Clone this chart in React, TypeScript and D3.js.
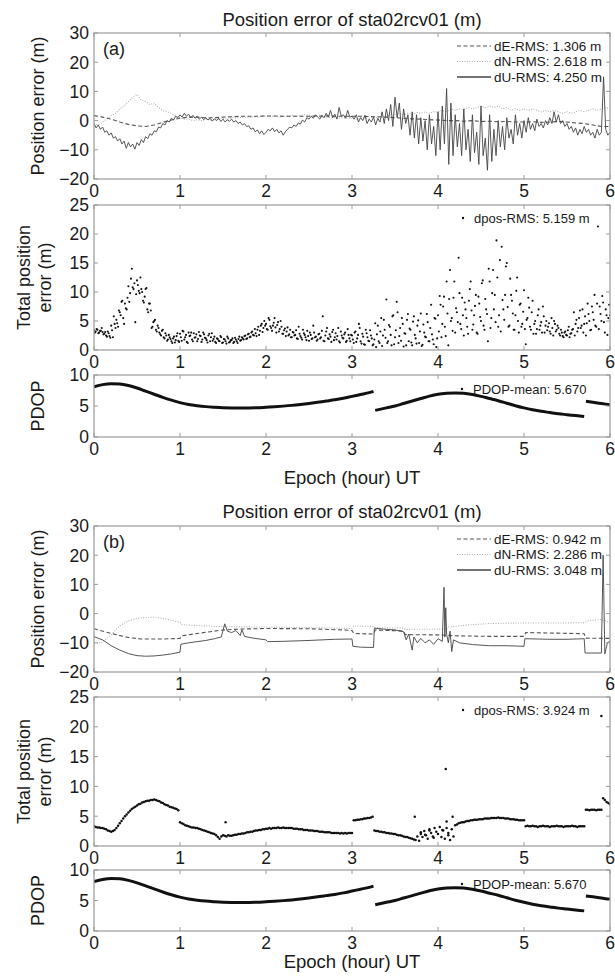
import React from 'react';
import * as d3 from 'd3';

// ---------- tick values ----------
const HOURS = [0, 1, 2, 3, 4, 5, 6];
const ENU_TICKS = [-20, -10, 0, 10, 20, 30];
const POS_TICKS = [0, 5, 10, 15, 20, 25];
const PDOP_TICKS = [0, 5, 10];

const TITLE = 'Position error of sta02rcv01 (m)';
const LEG_A = ['dE-RMS: 1.306 m', 'dN-RMS: 2.618 m', 'dU-RMS: 4.250 m'];
const LEG_B = ['dE-RMS: 0.942 m', 'dN-RMS: 2.286 m', 'dU-RMS: 3.048 m'];
const DPOS_LEG_A = 'dpos-RMS: 5.159 m';
const DPOS_LEG_B = 'dpos-RMS: 3.924 m';
const PDOP_LEG = 'PDOP-mean: 5.670';

// ---------- (a) ENU errors ----------
const dEaStep = 0.1;
const dEa = [1.7, 1.2, 0.5, -0.5, -1.3, -1.8, -2, -1.5, -0.6, 0.2, 0.8, 1.2, 1.2, 1, 1, 1.2, 1.3, 1.5, 1.5, 1.5,
  1.6, 1.6, 1.5, 1.5, 1.5, 1.5, 1.6, 1.6, 1.5, 1.5, 1.5, 1.5, 1.4, 1.3, 1.2, 1, 0.8, 0.6, 0.5, 0.3,
  0.2, 0, 0, -0.2, 0, -0.3, -0.2, -0.4, -0.3, -0.5, -0.5, -0.4, -0.6, -0.5, -0.3, -0.5, -0.8, -1, -1.5, -2, -2];

const dNaStep = 0.05;
const dNa = [-1, -1.5, -0.5, 0.6, 1.7, 2.5, 4, 5, 6.5, 8, 9, 7, 6.5, 5.5, 6, 4.5, 3.4, 3, 2.5, 1.5,
  1, 0.5, 0.5, 0, 0.3, 0, 0.5, 0.2, 0.5, 0.5, 0.8, 0.5, 1, 0.8, 1, 1.2, 1, 1.3, 1.2, 1.5,
  1.5, 1.3, 1.5, 1.2, 1.5, 1.5, 1.8, 1.5, 1.8, 2, 1.8, 1.5, 1.5, 1.2, 1.2, 1, 1, 0.8, 1, 0.8,
  0.8, 0.5, 0.8, 1, 0.8, 1.2, 1, 1.5, 1.5, 2, 2, 2.5, 2, 2.5, 2.2, 2.8, 2.5, 3, 2.5, 3,
  3, 3.5, 3, 4, 3.5, 4, 3.8, 4.5, 4, 4.5, 5, 4.5, 5, 4.5, 5, 4, 4.5, 3.5, 4, 3.5,
  4, 3.5, 4, 3.5, 3, 3.5, 3, 3.5, 3, 2.5, 3, 2.5, 3, 3.5, 3, 3.5, 4, 3.5, 4, 4.5, 4];

const dUaStep = 0.025;
const dUa = [
  -1, -2.5, -1.5, -3, -2.2, -4, -3.5, -5, -4.2, -6, -5.5, -7, -6.2, -8, -7, -9.5, -7.5, -9, -8, -9.8,
  -7.5, -8.5, -6.5, -7.5, -5.5, -6.2, -4.5, -5, -3.5, -3.8, -2.2, -2.5, -1, -1.5, 0, -0.5, 0.8, 0.2, 1.5, 1,
  2, 1.2, 2.5, 1.5, 2.2, 1, 1.8, 0.8, 1.5, 0.5, 1.2, 0.3, 1, 0.2, 0.8, -0.2, 0.6, 0, 0.8, -0.3,
  0.5, -0.5, 0.3, -0.2, 0.5, -0.5, 0, -1, -0.5, -1.5, -1, -2, -1.8, -3, -2.5, -3.8, -3.2, -4.5, -3.5, -4.8,
  -4, -3, -3.5, -2.5, -3.8, -3, -4.2, -3.5, -5, -3.8, -3, -2.2, -2.5, -1.5, -2, -0.8, -1.2, 0.2, -0.5, 1,
  0.5, 1.5, 0.8, 2, 1.2, 0.5, 1.8, 1, 2.5, 1.2, 3.5, 1, 2.2, 0.5, 4.5, 1.5, 2, 0.8, 3.5, 1.2,
  1.5, 0.5, 2, -0.5, 1, 0, 1.8, -1, 0.5, -0.5, 1.2, -1.5, 0.8, -0.5, 3, -1, 4, 0, 5.5, -2,
  8, 1, 6, -3, 4, -1, 2, -5, 3, -6, 2, -8, 1, -7, 0, -10, 2, -8, -2, -12,
  3, -10, 5, -8, 11, -15, 6, -12, 2, -9, -1, -12, 4, -10, -3, -14, 2, -11, -4, -15,
  5, -12, -6, -17, 2, -14, -3, -12, 0, -9, -2, -10, 1, -6, -3, -8, 2, -5, -1, -6,
  0, -4, 1, -3, -1, -3.5, 0.5, -2, -1, -2.5, 0, -1.5, 1, -1, 3, -0.5, 2, -1, 0, -2,
  -1, -3, -2, -4, -2.5, -5, -3, -4.5, -2, -4, -3, -5, -4, -6, -3, -5, -4, 15, -3, -5, -4];

// ---------- (a) total position error ----------
const dposAStep = 0.02;
const dposA = [
  3.4, 3.2, 3.5, 3.0, 3.3, 3.1, 2.8, 2.5, 3.2, 2.4, 4.2, 2.2, 4.5, 5.2, 4, 6.5, 8.3, 5.5, 8, 7,
  11, 9.8, 14, 10.5, 4.8, 12, 10.2, 12.5, 10, 8.2, 10.5, 7, 8, 6.8, 4, 5, 3.5, 4.2, 3, 2.5,
  3.5, 2, 2.5, 1.8, 2.2, 1.5, 2, 1.3, 2.4, 1.6,
  2.8, 1.6, 3.2, 2.2, 1.4, 3, 2.5, 1.8, 2.9, 2.2, 1.5, 3.1, 2.4, 1.8, 2.7, 2, 1.3, 2.8, 2.2, 1.6,
  2.3, 1.2, 1.9, 1.5, 2.2, 1.3, 1.8, 1.1, 2, 1.4, 1.7, 1.2, 2.1, 1.5, 1.9, 1.6, 2.2, 1.8, 2.5, 2,
  2.8, 2.3, 3.2, 2.5, 2.9, 3.5, 2.6, 4.2, 3.1, 5,
  4.5, 3.5, 5.2, 3.8, 4.2, 5.5, 3, 4.8, 3.6, 4, 2.8, 3.7, 3.2, 2.5, 3.5, 2.2, 3, 2.6, 2, 4,
  2.4, 1.8, 2.9, 2.2, 3.3, 1.6, 2.6, 2, 3, 2.3, 1.8, 2.8, 2.2, 5.8, 1.5, 3.2, 2, 2.7, 1.4, 3.5,
  2.2, 1.8, 3.8, 1.3, 2.5, 2, 3, 1.6, 2.6, 1.5,
  2.5, 1.2, 3.2, 2, 4.5, 1.5, 2.8, 1, 3.5, 2.2, 1.5, 2.5, 0.8, 1.8, 0.5, 4.2, 1.2, 5.5, 2.5, 3.5,
  8.7, 1.5, 4, 0.8, 6, 2.2, 8.3, 1.2, 3.8, 5.5, 0.6, 2.8, 5.2, 1.5, 3.5, 0.8, 5.8, 2, 4.2, 1.2,
  6.3, 0.9, 3, 2.2, 4.8, 1.5, 7.8, 1.8, 5.5, 0.5,
  6, 9.3, 2.2, 7.5, 4, 11.8, 0.8, 13.8, 5.5, 9, 3, 6.5, 15.9, 4.5, 9, 2.5, 7, 4, 8.5, 11.8,
  3.5, 6, 9.5, 2.8, 8, 5, 12, 3.5, 7, 1.5, 11.8, 5.5, 13.8, 9.5, 18.9, 4, 15.5, 17.8, 7, 9.5,
  15, 4, 12.3, 8.5, 3.5, 6, 12.5, 3, 8, 4.5,
  10.3, 1, 5.5, 7.3, 3.5, 8.5, 4.5, 2.8, 6, 3.5, 4.8, 7.5, 3, 5, 4, 3.2, 5.5, 2.5, 4.5, 3.5,
  3.8, 2.5, 3, 2.2, 3.2, 2.5, 4, 2.8, 3.5, 6.5, 4.5, 3.2, 5.5, 3.8, 7, 4.5, 2.5, 8, 5, 3.5,
  6.5, 9.5, 4, 21.3, 7.5, 5, 8.2, 3, 6, 5.5, 6];
// second set of epochs (offset half a step)
const dposAOffset = 0.01;
const dposA2 = [
  3.0, 3.6, 2.9, 3.3, 3.8, 2.7, 3.1, 2.3, 2.9, 2.1, 3.4, 5.8, 3.8, 4.6, 6.8, 6, 8.5, 4.5, 7.2, 9,
  8.3, 12.3, 10.8, 11.5, 9.6, 11.2, 9.8, 10.5, 8.5, 9.2, 10.7, 6.5, 8, 3.8, 4.8, 5.2, 3.2, 3.8, 2.7, 3.3,
  2.2, 2.9, 1.6, 2.6, 1.9, 1.2, 2.3, 1.7, 2.9, 1.4,
  2.2, 3.3, 1.8, 2.6, 1.2, 2.4, 3.0, 1.5, 2.1, 2.7, 1.9, 2.5, 1.4, 3.0, 2.1, 1.7, 2.5, 1.5, 2.9, 1.9,
  1.4, 2.0, 1.6, 2.4, 1.2, 1.9, 1.5, 2.3, 1.3, 1.7, 2.0, 1.4, 1.8, 1.2, 2.3, 1.7, 2.0, 2.4, 1.9, 2.7,
  2.2, 3.0, 2.6, 3.6, 2.4, 4.0, 3.3, 4.5, 3.8, 4.2,
  3.6, 5.5, 4.1, 3.3, 4.7, 3.9, 4.3, 3.2, 5.0, 2.8, 3.4, 2.4, 3.9, 2.7, 2.2, 3.1, 2.5, 3.4, 1.9, 2.8,
  2.1, 3.5, 2.6, 1.7, 2.4, 3.0, 1.9, 4.2, 2.2, 1.6, 2.7, 2.0, 3.3, 1.6, 2.5, 3.8, 1.9, 2.3, 3.1, 1.7,
  2.9, 2.4, 1.5, 3.2, 2.1, 2.7, 1.4, 3.6, 2.0, 2.6,
  1.8, 3.0, 1.4, 2.6, 3.8, 1.1, 2.3, 0.9, 2.9, 1.6, 3.4, 2.0, 1.0, 4.6, 2.7, 1.5, 3.2, 0.7, 5.2, 2.1,
  1.2, 4.3, 2.6, 5.8, 1.0, 3.4, 6.5, 2.4, 1.6, 4.5, 2.9, 0.8, 6.2, 3.7, 1.3, 4.9, 2.6, 1.1, 5.1, 3.2,
  0.7, 4.4, 2.3, 6.2, 1.5, 3.8, 2.7, 1.0, 5.4, 2.0,
  3.2, 7.8, 4.5, 9.2, 2.4, 6.3, 8.8, 5.0, 3.3, 11.8, 7.2, 4.8, 9.8, 3.6, 6.0, 8.2, 5.5, 2.8, 10.5, 6.8,
  4.4, 7.6, 3.0, 9.2, 5.7, 11.5, 4.2, 8.8, 6.2, 14, 3.8, 9.8, 7.0, 4.8, 12.5, 6.0, 3.2, 8.6, 5.2, 14.4,
  7.4, 4.2, 9.5, 6.3, 3.5, 10.2, 5.0, 7.8, 4.0, 6.6,
  3.6, 5.2, 9.0, 4.0, 6.5, 2.8, 5.0, 3.6, 7.0, 4.2, 3.0, 5.8, 4.2, 3.4, 4.6, 2.8, 3.8, 5.0, 3.2, 4.2,
  2.8, 3.5, 2.4, 3.0, 2.6, 3.4, 2.2, 2.9, 3.6, 2.5, 5.2, 3.8, 6.8, 4.2, 3.0, 5.8, 4.6, 6.2, 3.4, 7.5,
  5.2, 4.2, 8.0, 3.6, 6.2, 9.3, 4.8, 7.0, 2.6, 7.8];

// ---------- PDOP (same for both runs) ----------
const pdopSeg1 = [[0, 8.1], [0.1, 8.45], [0.2, 8.6], [0.3, 8.55], [0.4, 8.3], [0.5, 7.9], [0.6, 7.4], [0.7, 6.9],
  [0.8, 6.4], [0.9, 5.95], [1.0, 5.55], [1.1, 5.25], [1.2, 5.05], [1.3, 4.9], [1.4, 4.8], [1.5, 4.72], [1.6, 4.68],
  [1.7, 4.66], [1.8, 4.68], [1.9, 4.72], [2.0, 4.8], [2.1, 4.88], [2.2, 4.98], [2.3, 5.1], [2.4, 5.25], [2.5, 5.42],
  [2.6, 5.6], [2.7, 5.8], [2.8, 6.0], [2.9, 6.25], [3.0, 6.55], [3.1, 6.85], [3.2, 7.15], [3.25, 7.35]];
const pdopSeg2 = [[3.27, 4.3], [3.4, 4.7], [3.5, 5.0], [3.6, 5.4], [3.7, 5.8], [3.8, 6.2], [3.9, 6.6], [4.0, 6.9],
  [4.1, 7.05], [4.2, 7.1], [4.3, 7.05], [4.4, 6.85], [4.5, 6.55], [4.6, 6.2], [4.7, 5.85], [4.8, 5.45], [4.9, 5.05],
  [5.0, 4.7], [5.1, 4.4], [5.2, 4.15], [5.3, 3.95], [5.4, 3.75], [5.5, 3.6], [5.6, 3.45], [5.7, 3.3]];
const pdopSeg3 = [[5.72, 5.75], [5.8, 5.6], [5.9, 5.4], [6.0, 5.2]];

// ---------- (b) ENU errors ----------
const dEb = [[0, -5.2], [0.2, -6.8], [0.4, -8.2], [0.55, -8.7], [0.8, -8.7], [1.0, -8.5], [1.02, -7.6], [1.2, -6.8],
  [1.4, -6], [1.5, -5.6], [1.7, -5.3], [2.0, -5.1], [2.5, -5.2], [2.9, -5.6], [3.0, -5.8], [3.02, -6.8], [3.25, -7],
  [3.27, -5.6], [3.6, -6], [3.62, -7.2], [4.0, -7.3], [4.1, -7.4], [4.2, -7.6], [4.6, -7.8], [5.0, -7.8], [5.02, -6.5],
  [5.4, -6.7], [5.7, -6.9], [5.72, -8.4], [6.0, -8.5]];
const dNb = [[0, -10.2], [0.1, -9.8], [0.2, -7.2], [0.3, -4.2], [0.4, -2.5], [0.5, -1.6], [0.7, -1.2], [0.85, -1.9],
  [1.0, -3], [1.02, -3.8], [1.2, -4.1], [1.5, -4.5], [2.0, -4.6], [2.5, -4.8], [3.0, -5.1], [3.02, -4.2], [3.25, -4.4],
  [3.27, -4.8], [3.6, -5], [3.62, -5.4], [4.1, -5.3], [4.12, -4.6], [4.3, -4], [4.6, -3.4], [5.0, -3.2], [5.5, -3.2],
  [5.7, -3.1], [5.75, -2.4], [5.9, -2], [6.0, -3]];
const dUb = [[0, -7.9], [0.1, -9], [0.2, -11], [0.3, -12.5], [0.4, -13.7], [0.5, -14.4], [0.6, -14.6], [0.7, -14.5],
  [0.8, -14.2], [0.9, -13.8], [1.0, -13.2], [1.01, -10.5], [1.1, -10], [1.2, -9.6], [1.3, -9.2], [1.4, -8.6],
  [1.48, -8], [1.52, -3.5], [1.55, -6], [1.6, -6.5], [1.65, -5.8], [1.7, -7.5], [1.72, -5.5], [1.75, -7.8],
  [1.85, -8.4], [2.0, -9], [2.02, -9.6], [2.2, -9.5], [2.5, -9.2], [2.8, -8.8], [3.0, -8.7], [3.01, -11.2],
  [3.1, -11.5], [3.25, -11.6], [3.26, -5], [3.4, -5.4], [3.5, -5.6], [3.6, -6.2], [3.63, -9], [3.66, -7],
  [3.7, -12.5], [3.72, -8], [3.76, -10], [3.8, -8.5], [3.85, -10], [3.9, -9], [3.95, -10.5], [4.0, -8.6],
  [4.05, -9.5], [4.07, 9], [4.08, -8], [4.09, 2], [4.1, -7], [4.12, -10], [4.14, -6], [4.16, -13], [4.18, -9],
  [4.25, -10], [4.4, -10.6], [4.6, -11], [4.8, -11], [5.0, -11.2], [5.01, -8.6], [5.3, -8.8], [5.5, -8.8],
  [5.7, -8.6], [5.71, -13.5], [5.9, -13.5], [5.92, 20], [5.94, -13.8], [5.97, -10], [6.0, -9.5]];

// ---------- (b) total position error ----------
const dposBStep = 0.02;
const dposB = [
  3.3, 3.2, 3.1, 3.1, 3.0, 3.0, 2.9, 2.8, 2.6, 2.5, 2.4, 2.5, 2.7, 3.0, 3.4, 3.8, 4.2, 4.6, 5.0, 5.3,
  5.6, 5.9, 6.2, 6.4, 6.6, 6.8, 7.0, 7.1, 7.3, 7.4, 7.5, 7.6, 7.6, 7.7, 7.7, 7.8, 7.7, 7.6, 7.5, 7.3,
  7.2, 7.0, 6.9, 6.8, 6.6, 6.5, 6.4, 6.3, 6.2, 6.0,
  4.0, 3.8, 3.7, 3.5, 3.4, 3.3, 3.2, 3.1, 3.1, 3.0, 3.0, 2.9, 2.8, 2.7, 2.6, 2.5, 2.4, 2.3, 2.2, 2.1,
  2.0, 1.8, 1.5, 1.2, 1.6, 1.8, 1.7, 1.6, 1.8, 1.7, 1.7, 1.8, 1.9, 1.9, 2.0, 2.0, 2.1, 2.1, 2.2, 2.3,
  2.3, 2.4, 2.4, 2.5, 2.6, 2.6, 2.7, 2.7, 2.8, 2.8,
  2.9, 2.9, 3.0, 2.9, 3.0, 3.0, 3.0, 3.1, 3.0, 3.0, 3.1, 3.0, 3.0, 3.0, 3.0, 3.0, 2.9, 2.9, 2.9, 2.8,
  2.8, 2.8, 2.7, 2.7, 2.7, 2.6, 2.6, 2.6, 2.5, 2.5, 2.5, 2.4, 2.4, 2.4, 2.3, 2.3, 2.3, 2.3, 2.2, 2.2,
  2.2, 2.2, 2.2, 2.1, 2.2, 2.1, 2.2, 2.1, 2.2, 2.2,
  2.2, 4.3, 4.3, 4.4, 4.4, 4.5, 4.5, 4.6, 4.6, 4.7, 4.7, 4.8, 4.9, 2.6, 2.5, 2.5, 2.4, 2.4, 2.3, 2.3,
  2.2, 2.2, 2.1, 2.1, 2.0, 2.0, 1.9, 1.8, 1.8, 1.7, 1.6, 1.5, 1.5, 1.4, 1.3, 1.2, 1.1, 1.0, 1.6, 0.9,
  2.0, 1.5, 2.5, 1.8, 1.2, 2.8, 2.2, 1.6, 3.0, 2.4,
  2.0, 3.2, 1.5, 2.6, 1.2, 3.0, 2.2, 1.0, 2.8, 1.6, 3.5, 3.6, 3.8, 3.9, 4.0, 4.0, 4.1, 4.2, 4.2, 4.3,
  4.3, 4.4, 4.4, 4.4, 4.5, 4.5, 4.5, 4.6, 4.6, 4.6, 4.6, 4.7, 4.7, 4.7, 4.7, 4.8, 4.7, 4.7, 4.7, 4.6,
  4.6, 4.6, 4.5, 4.5, 4.5, 4.4, 4.4, 4.3, 4.3, 4.3,
  4.3, 3.3, 3.4, 3.3, 3.3, 3.4, 3.3, 3.3, 3.2, 3.3, 3.3, 3.4, 3.3, 3.3, 3.3, 3.2, 3.3, 3.3, 3.3, 3.4,
  3.3, 3.3, 3.3, 3.2, 3.3, 3.3, 3.3, 3.3, 3.4, 3.3, 3.3, 3.2, 3.3, 3.3, 3.3, 3.3, 6.1, 6.1, 6.0, 6.1,
  6.1, 6.1, 6.0, 6.1, 6.1, 6.1, 8.0, 7.7, 7.4, 7.2, 7.0];
const dposBExtra = [[1.53, 4.0], [3.73, 4.9], [4.09, 12.9], [4.1, 4.1], [4.17, 4.9], [5.9, 21.8],
  [3.8, 2.3], [3.85, 1.9], [3.9, 2.6], [3.95, 1.4], [4.05, 2.7], [4.12, 1.8]];

// ---------- layout ----------
const W = 615, H = 978;
const L = 94, R = 610;
const FONT = "'Liberation Sans', Arial, Helvetica, sans-serif";
const FRAME = '#9a9a9a';
const TXT = '#1a1a1a';
const TICK_FS = 17.5;
const LABEL_FS = 18;

const toPairs = (vals: number[], step: number, offset = 0) =>
  vals.map((v, i) => [offset + i * step, v] as [number, number]);

type Scale = d3.ScaleLinear<number, number>;

function Axes(props: {
  id: string; top: number; bottom: number; domain: [number, number]; ticks: number[];
  children: (x: Scale, y: Scale) => React.ReactNode;
}) {
  const { id, top, bottom, domain, ticks, children } = props;
  const x = d3.scaleLinear().domain([0, 6]).range([L, R]);
  const y = d3.scaleLinear().domain(domain).range([bottom, top]);
  const tl = 4;
  return (
    <g>
      <defs>
        <clipPath id={id}><rect x={L} y={top} width={R - L} height={bottom - top} /></clipPath>
      </defs>
      <g clipPath={`url(#${id})`}>{children(x, y)}</g>
      <rect x={L} y={top} width={R - L} height={bottom - top} fill="none" stroke={FRAME} strokeWidth={1.2} />
      {HOURS.map(h => (
        <g key={'xt' + h}>
          <line x1={x(h)} x2={x(h)} y1={bottom} y2={bottom - tl} stroke={FRAME} />
          <line x1={x(h)} x2={x(h)} y1={top} y2={top + tl} stroke={FRAME} />
          <text x={x(h)} y={bottom + 17.5} textAnchor="middle" fontSize={TICK_FS} fill={TXT}>{h}</text>
        </g>
      ))}
      {ticks.map(t => (
        <g key={'yt' + t}>
          <line x1={L} x2={L + tl} y1={y(t)} y2={y(t)} stroke={FRAME} />
          <line x1={R} x2={R - tl} y1={y(t)} y2={y(t)} stroke={FRAME} />
          <text x={L - 5} y={y(t)} dy="0.36em" textAnchor="end" fontSize={TICK_FS} fill={TXT}>
            {t < 0 ? '\u2212' + Math.abs(t) : String(t)}
          </text>
        </g>
      ))}
    </g>
  );
}

function Figure(props: {
  tag: string; letterId: string;
  dE: [number, number][]; dN: [number, number][]; dU: [number, number][];
  leg: string[]; dpos: [number, number][]; dposLeg: string; dotR: number;
  p1: [number, number]; p2: [number, number]; p3: [number, number]; epochY: number; titleY: number;
}) {
  const { tag, letterId, dE, dN, dU, leg, dpos, dposLeg, dotR, p1, p2, p3, epochY, titleY } = props;
  const line = (x: Scale, y: Scale) => d3.line<[number, number]>().x(d => x(d[0])).y(d => y(d[1]));
  const pdopLine = (x: Scale, y: Scale) =>
    d3.line<[number, number]>().x(d => x(d[0])).y(d => y(d[1])).curve(d3.curveMonotoneX);
  const cx = (L + R) / 2;
  const legX = 494, lineX0 = 457, lineX1 = 491;
  const legStyles = [
    { stroke: '#555', dash: '4,2.5', w: 1.1 },
    { stroke: '#b0b0b0', dash: '1,1.5', w: 1.1 },
    { stroke: '#444', dash: undefined, w: 1.3 },
  ];
  return (
    <g>
      <text x={cx} y={titleY} dy="0.35em" textAnchor="middle" fontSize={18.5} fill={TXT}>{TITLE}</text>
      <Axes id={letterId + '1'} top={p1[0]} bottom={p1[1]} domain={[-20, 30]} ticks={ENU_TICKS}>
        {(x, y) => (
          <g>
            <path d={line(x, y)(dN) || ''} fill="none" stroke="#b0b0b0" strokeWidth={1.1} strokeDasharray="1,1.5" />
            <path d={line(x, y)(dE) || ''} fill="none" stroke="#555" strokeWidth={1.1} strokeDasharray="4,2.5" />
            <path d={line(x, y)(dU) || ''} fill="none" stroke="#444" strokeWidth={0.9} />
          </g>
        )}
      </Axes>
      <text x={L + 9} y={p1[0] + 16} dy="0.35em" fontSize={LABEL_FS} fill={TXT}>{tag}</text>
      {leg.map((s, i) => {
        const ly = p1[0] + 13 + i * 15.5;
        const st = legStyles[i];
        return (
          <g key={'lg' + i}>
            <line x1={lineX0} x2={lineX1} y1={ly} y2={ly} stroke={st.stroke} strokeWidth={st.w} strokeDasharray={st.dash} />
            <text x={legX} y={ly} dy="0.35em" fontSize={13.5} fill={TXT}>{s}</text>
          </g>
        );
      })}
      <text transform={`translate(38,${(p1[0] + p1[1]) / 2}) rotate(-90)`} textAnchor="middle" dy="0.35em" fontSize={LABEL_FS} fill={TXT}>Position error (m)</text>

      <Axes id={letterId + '2'} top={p2[0]} bottom={p2[1]} domain={[0, 25]} ticks={POS_TICKS}>
        {(x, y) => (
          <g>
            {dpos.map((d, i) => <circle key={i} cx={x(d[0])} cy={y(d[1])} r={dotR} fill="#111" />)}
          </g>
        )}
      </Axes>
      <circle cx={463} cy={p2[0] + 13} r={1.2} fill="#111" />
      <text x={474} y={p2[0] + 13} dy="0.35em" fontSize={13} fill={TXT}>{dposLeg}</text>
      <text transform={`translate(24,${(p2[0] + p2[1]) / 2}) rotate(-90)`} textAnchor="middle" dy="0.35em" fontSize={LABEL_FS} fill={TXT}>Total position</text>
      <text transform={`translate(45,${(p2[0] + p2[1]) / 2}) rotate(-90)`} textAnchor="middle" dy="0.35em" fontSize={LABEL_FS} fill={TXT}>error (m)</text>

      <Axes id={letterId + '3'} top={p3[0]} bottom={p3[1]} domain={[0, 10]} ticks={PDOP_TICKS}>
        {(x, y) => (
          <g>
            {[pdopSeg1, pdopSeg2, pdopSeg3].map((seg, i) => (
              <path key={i} d={pdopLine(x, y)(seg as [number, number][]) || ''} fill="none" stroke="#111" strokeWidth={3} />
            ))}
          </g>
        )}
      </Axes>
      <circle cx={462} cy={p3[0] + 14} r={1.2} fill="#111" />
      <text x={473} y={p3[0] + 14} dy="0.35em" fontSize={13} fill={TXT}>{PDOP_LEG}</text>
      <text transform={`translate(38,${(p3[0] + p3[1]) / 2}) rotate(-90)`} textAnchor="middle" dy="0.35em" fontSize={LABEL_FS} fill={TXT}>PDOP</text>

      <text x={cx} y={epochY} dy="0.35em" textAnchor="middle" fontSize={18.5} fill={TXT}>Epoch (hour) UT</text>
    </g>
  );
}

export default function App() {
  const dposAPts = [...toPairs(dposA, dposAStep), ...toPairs(dposA2, dposAStep, dposAOffset)];
  const dposBPts = [...toPairs(dposB, dposBStep), ...(dposBExtra as [number, number][])];
  return (
    <svg width={W} height={H} viewBox={`0 0 ${W} ${H}`}
      style={{ position: 'absolute', left: 0, top: 0, background: '#fff', fontFamily: FONT }}>
      <rect x={0} y={0} width={W} height={H} fill="#fff" />
      <Figure tag="(a)" letterId="fa"
        dE={toPairs(dEa, dEaStep)} dN={toPairs(dNa, dNaStep)} dU={toPairs(dUa, dUaStep)}
        leg={LEG_A} dpos={dposAPts} dposLeg={DPOS_LEG_A} dotR={1.05}
        titleY={20} p1={[33, 179]} p2={[205, 350]} p3={[375, 437]} epochY={478} />
      <Figure tag="(b)" letterId="fb"
        dE={dEb as [number, number][]} dN={dNb as [number, number][]} dU={dUb as [number, number][]}
        leg={LEG_B} dpos={dposBPts} dposLeg={DPOS_LEG_B} dotR={1.25}
        titleY={512} p1={[526, 672]} p2={[697, 846]} p3={[870, 931]} epochY={962} />
    </svg>
  );
}
